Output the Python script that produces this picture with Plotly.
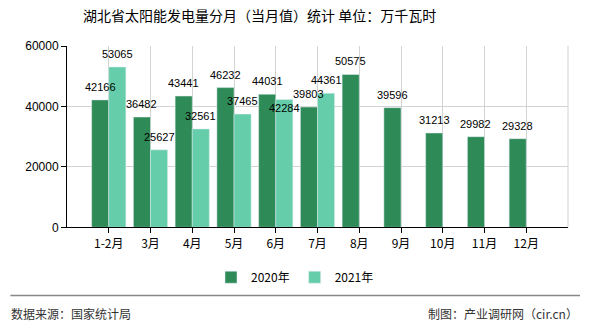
import plotly.graph_objects as go

categories = ["1-2月", "3月", "4月", "5月", "6月", "7月", "8月", "9月", "10月", "11月", "12月"]
values_2020 = [42166, 36482, 43441, 46232, 44031, 39803, 50575, 39596, 31213, 29982, 29328]
values_2021 = [53065, 25627, 32561, 37465, 42284, 44361, None, None, None, None, None]
series_names = ["2020年", "2021年"]
colors = ["#2E8B57", "#66CDAA"]

fig = go.Figure()
for name, vals, col in zip(series_names, [values_2020, values_2021], colors):
    fig.add_trace(go.Bar(x=categories, y=vals, name=name, marker_color=col))

# value labels drawn on top of all bars; one label is pushed down to avoid a collision
bar_half = 41.75 * 0.82 / 4
label_nudge = {(1, "6月"): -8}
annotations = []
for si, (vals, shift) in enumerate(zip([values_2020, values_2021], [-bar_half, bar_half])):
    for c, v in zip(categories, vals):
        if v is None:
            continue
        annotations.append(dict(
            x=c, y=v, xref="x", yref="y", text=str(v), showarrow=False,
            xshift=shift, yshift=label_nudge.get((si, c), 13),
            xanchor="center", yanchor="middle",
            font=dict(family="Liberation Sans", size=11, color="black")))

annotations += [
    dict(text="数据来源：国家统计局", xref="paper", yref="paper", x=-0.115, y=-0.475,
         xanchor="left", yanchor="middle", showarrow=False,
         font=dict(family="Noto Sans CJK SC", size=12, color="#333333")),
    dict(text="制图：产业调研网（cir.cn）", xref="paper", yref="paper", x=1.024, y=-0.475,
         xanchor="right", yanchor="middle", showarrow=False,
         font=dict(family="Noto Sans CJK SC", size=12, color="#333333")),
]

fig.update_layout(
    width=590, height=330,
    margin=dict(l=67, r=22, t=46, b=101),
    paper_bgcolor="white", plot_bgcolor="white",
    barmode="group", bargap=0.18, bargroupgap=0,
    title=dict(text="湖北省太阳能发电量分月（当月值）统计 单位：万千瓦时",
               x=0.44, xanchor="center", y=0.95, yanchor="middle",
               font=dict(family="Noto Sans CJK SC", size=14, color="black")),
    legend=dict(orientation="h", xref="container", x=0.5, xanchor="center",
                yref="container", y=0.16, yanchor="middle",
                font=dict(family="Noto Sans CJK SC", size=12, color="black"),
                itemwidth=30, traceorder="normal"),
    xaxis=dict(type="category", range=[-1, 11], showgrid=True, gridcolor="#d3d3d3",
               showline=True, linecolor="black", linewidth=1,
               ticks="outside", ticklen=5, tickcolor="black",
               tickfont=dict(family="Noto Sans CJK SC", size=12, color="black")),
    yaxis=dict(range=[0, 60000], tickvals=[0, 20000, 40000, 60000], tickformat="d",
               showgrid=True, gridcolor="#d3d3d3", showline=True, linecolor="black", linewidth=1,
               ticks="outside", ticklen=5, tickcolor="black", zeroline=False,
               tickfont=dict(family="Liberation Sans", size=12, color="black")),
    shapes=[
        dict(type="line", xref="paper", yref="paper", x0=1, x1=1, y0=0, y1=1,
             line=dict(color="#d3d3d3", width=1)),
        dict(type="line", xref="paper", yref="paper", x0=-0.113, x1=1.024, y0=-0.376, y1=-0.376,
             line=dict(color="#888888", width=1.5)),
    ],
    annotations=annotations,
)

fig.write_html("out.html")
